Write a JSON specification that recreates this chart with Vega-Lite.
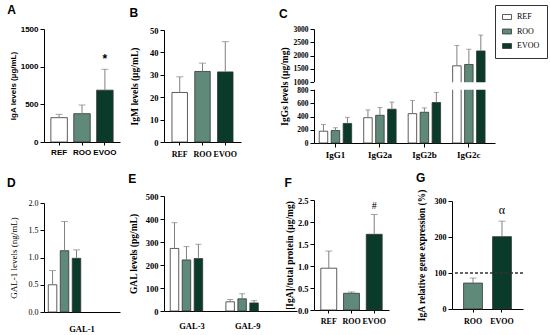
{
"$schema":"https://vega.github.io/schema/vega-lite/v6.json",
"padding":{"left":7,"top":4,"right":0,"bottom":0},
"config":{
 "view":{"stroke":null},
 "axis":{"domainColor":"#000","tickColor":"#000","labelColor":"#000","titleColor":"#000","grid":false,"labelFont":"Liberation Serif","titleFont":"Liberation Serif","labelFontWeight":"bold","titleFontWeight":"bold","labelFontSize":8.5,"titleFontSize":9.5,"tickSize":4,"labelPadding":2,"labelOverlap":false,"domainWidth":1,"tickWidth":1},
 "axisX":{"labelAngle":0,"tickSize":3},
 "title":{"font":"Liberation Sans","fontSize":12,"fontWeight":"bold","anchor":"start","frame":"bounds","color":"#000","offset":4},
 "bar":{"stroke":"#333333","strokeWidth":0.8},
 "tick":{"color":"#808080","thickness":1},
 "rule":{"color":"#808080","strokeWidth":1},
 "text":{"color":"#000"}
},
"datasets":{
 "a":[{"g":"REF","v":323,"hi":367},{"g":"ROO","v":376,"hi":491},{"g":"EVOO","v":688,"hi":965,"note":"*"}],
 "b":[{"g":"REF","v":22.1,"hi":29.1},{"g":"ROO","v":31.5,"hi":35.2},{"g":"EVOO","v":31.3,"hi":44.8}],
 "c":[
  {"grp":"IgG1","g":"REF","v":178,"hi":280},{"grp":"IgG1","g":"ROO","v":188,"hi":230},{"grp":"IgG1","g":"EVOO","v":295,"hi":387},
  {"grp":"IgG2a","g":"REF","v":382,"hi":500},{"grp":"IgG2a","g":"ROO","v":418,"hi":535},{"grp":"IgG2a","g":"EVOO","v":510,"hi":617},
  {"grp":"IgG2b","g":"REF","v":443,"hi":642},{"grp":"IgG2b","g":"ROO","v":464,"hi":530},{"grp":"IgG2b","g":"EVOO","v":611,"hi":764},
  {"grp":"IgG2c","g":"REF","v":1611,"hi":2376},{"grp":"IgG2c","g":"ROO","v":1662,"hi":2236},{"grp":"IgG2c","g":"EVOO","v":2172,"hi":2770}],
 "cgap":[{"lo":808,"hi":992,"x0":0,"x1":1}],
 "d":[{"cat":"GAL-1","g":"REF","v":0.5,"hi":0.76},{"cat":"GAL-1","g":"ROO","v":1.125,"hi":1.66},{"cat":"GAL-1","g":"EVOO","v":0.985,"hi":1.14}],
 "e":[
  {"grp":"GAL-3","g":"REF","v":272,"hi":384},{"grp":"GAL-3","g":"ROO","v":222,"hi":280},{"grp":"GAL-3","g":"EVOO","v":228,"hi":290},
  {"grp":"GAL-9","g":"REF","v":40,"hi":50},{"grp":"GAL-9","g":"ROO","v":53,"hi":75},{"grp":"GAL-9","g":"EVOO","v":35,"hi":45}],
 "f":[{"g":"REF","v":0.95,"hi":1.34},{"g":"ROO","v":0.38,"hi":0.41},{"g":"EVOO","v":1.72,"hi":2.17,"note":"#"}],
 "g":[{"g":"ROO","v":72,"hi":86},{"g":"EVOO","v":201,"hi":244,"note":"α"}],
 "blank":[]
},
"columns":4,
"align":"each",
"bounds":"flush",
"spacing":{"row":53,"column":17},
"resolve":{"scale":{"fill":"independent"},"legend":{"fill":"independent"}},
"concat":[
 {
  "title":{"text":"A","offset":8,"dx":-2},
  "width":103,"height":113,
  "data":{"name":"a"},
  "encoding":{"x":{"field":"g","type":"nominal","sort":["REF","ROO","EVOO"],"scale":{"range":[0,76],"paddingInner":0.28,"paddingOuter":0.3},"axis":{"title":null,"labelFont":"Liberation Sans","labelFontSize":8,"labelPadding":3}}},
  "layer":[
   {"mark":"bar","encoding":{"y":{"field":"v","type":"quantitative","scale":{"domain":[0,1500],"nice":false},"axis":{"title":"IgA levels (µg/mL)","values":[0,500,1000,1500],"format":"d","labelOverlap":false,"labelFont":"Liberation Sans","titleFont":"Liberation Sans","labelFontSize":8,"titleFontSize":8,"titlePadding":3}},"fill":{"field":"g","type":"nominal","scale":{"domain":["REF","ROO","EVOO"],"range":["#ffffff","#5f8a79","#0a3a29"]},"legend":null}}},
   {"mark":"rule","encoding":{"y":{"field":"v","type":"quantitative","scale":{"domain":[0,1500],"nice":false},"axis":{"title":"IgA levels (µg/mL)","values":[0,500,1000,1500],"format":"d","labelOverlap":false,"labelFont":"Liberation Sans","titleFont":"Liberation Sans","labelFontSize":8,"titleFontSize":8,"titlePadding":3}},"y2":{"field":"hi"}}},
   {"mark":{"type":"tick","size":7},"encoding":{"y":{"field":"hi","type":"quantitative","scale":{"domain":[0,1500],"nice":false},"axis":{"title":"IgA levels (µg/mL)","values":[0,500,1000,1500],"format":"d","labelOverlap":false,"labelFont":"Liberation Sans","titleFont":"Liberation Sans","labelFontSize":8,"titleFontSize":8,"titlePadding":3}}}},
   {"transform":[{"filter":"datum.note"}],"mark":{"type":"text","font":"Liberation Sans","fontSize":12,"fontWeight":"bold","baseline":"alphabetic","dy":-6},"encoding":{"y":{"field":"hi","type":"quantitative","scale":{"domain":[0,1500],"nice":false},"axis":{"title":"IgA levels (µg/mL)","values":[0,500,1000,1500],"format":"d","labelOverlap":false,"labelFont":"Liberation Sans","titleFont":"Liberation Sans","labelFontSize":8,"titleFontSize":8,"titlePadding":3}},"text":{"field":"note"}}}
  ]
 },
 {
  "title":{"text":"B","offset":6},
  "width":133,"height":113,
  "data":{"name":"b"},
  "encoding":{"x":{"field":"g","type":"nominal","sort":["REF","ROO","EVOO"],"scale":{"range":[0,77],"paddingInner":0.32,"paddingOuter":0.35},"axis":{"title":null,"labelFontSize":8,"labelPadding":5}}},
  "layer":[
   {"mark":"bar","encoding":{"y":{"field":"v","type":"quantitative","scale":{"domain":[0,50],"nice":false,"range":[113,1]},"axis":{"title":"IgM levels (µg/mL)","values":[0,10,20,30,40,50],"labelOverlap":false,"titlePadding":10}},"fill":{"field":"g","type":"nominal","scale":{"domain":["REF","ROO","EVOO"],"range":["#ffffff","#5f8a79","#0a3a29"]},"legend":null}}},
   {"mark":"rule","encoding":{"y":{"field":"v","type":"quantitative","scale":{"domain":[0,50],"nice":false,"range":[113,1]},"axis":{"title":"IgM levels (µg/mL)","values":[0,10,20,30,40,50],"labelOverlap":false,"titlePadding":10}},"y2":{"field":"hi"}}},
   {"mark":{"type":"tick","size":7},"encoding":{"y":{"field":"hi","type":"quantitative","scale":{"domain":[0,50],"nice":false,"range":[113,1]},"axis":{"title":"IgM levels (µg/mL)","values":[0,10,20,30,40,50],"labelOverlap":false,"titlePadding":10}}}}
  ]
 },
 {
  "title":{"text":"C","offset":4},
  "width":121,"height":114,
  "resolve":{"scale":{"x":"independent"},"axis":{"x":"independent"}},
  "layer":[
   {"data":{"name":"c"},
    "encoding":{
     "x":{"field":"grp","type":"nominal","sort":["IgG1","IgG2a","IgG2b","IgG2c"],"scale":{"range":[0,181],"paddingInner":0.26,"paddingOuter":0.165,"align":0.34},"axis":{"title":null,"labelFontSize":9,"labelPadding":3,"tickSize":4}},
     "xOffset":{"field":"g","type":"nominal","sort":["REF","ROO","EVOO"],"scale":{"paddingInner":0.29,"paddingOuter":0.02}}},
    "layer":[
     {"mark":"bar","encoding":{
       "y":{"field":"v","type":"quantitative","scale":{"domain":[0,800,1000,3000],"range":[114,61,53,0],"nice":false,"zero":false},"axis":{"title":"IgGs levels (µg/mg)","values":[0,200,400,600,800,1000,1500,2000,2500,3000],"format":"d","labelOverlap":false,"labelFontSize":7.5,"titlePadding":4,"zindex":0}},
       "fill":{"field":"g","type":"nominal","scale":{"domain":["REF","ROO","EVOO"],"range":["#ffffff","#5f8a79","#0a3a29"]},"legend":null}}},
     {"mark":"rule","encoding":{
       "y":{"field":"v","type":"quantitative","scale":{"domain":[0,800,1000,3000],"range":[114,61,53,0],"nice":false,"zero":false},"axis":{"title":"IgGs levels (µg/mg)","values":[0,200,400,600,800,1000,1500,2000,2500,3000],"format":"d","labelOverlap":false,"labelFontSize":7.5,"titlePadding":4,"zindex":0}},"y2":{"field":"hi"}}},
     {"mark":{"type":"tick","size":5},"encoding":{
       "y":{"field":"hi","type":"quantitative","scale":{"domain":[0,800,1000,3000],"range":[114,61,53,0],"nice":false,"zero":false},"axis":{"title":"IgGs levels (µg/mg)","values":[0,200,400,600,800,1000,1500,2000,2500,3000],"format":"d","labelOverlap":false,"labelFontSize":7.5,"titlePadding":4,"zindex":0}}}}
    ]},
   {"data":{"name":"cgap"},"mark":{"type":"rect","color":"#ffffff","opacity":1},"encoding":{
     "x":{"field":"x0","type":"quantitative","scale":{"domain":[0,1],"range":[0,181]},"axis":null},
     "x2":{"field":"x1"},
     "y":{"field":"lo","type":"quantitative","scale":{"domain":[0,800,1000,3000],"range":[114,61,53,0],"nice":false,"zero":false},"axis":{"title":"IgGs levels (µg/mg)","values":[0,200,400,600,800,1000,1500,2000,2500,3000],"format":"d","labelOverlap":false,"labelFontSize":7.5,"titlePadding":4,"zindex":0}},"y2":{"field":"hi"}}}
  ]
 },
 {"width":1,"height":1,"data":{"name":"blank"},"mark":{"type":"square"},
  "encoding":{"fill":{"field":"g","type":"nominal","scale":{"domain":["REF","ROO","EVOO"],"range":["#ffffff","#5f8a79","#0a3a29"]},"legend":{"title":null,"orient":"none","legendX":43,"legendY":-24,"strokeColor":"#333333","fillColor":"#ffffff","padding":7,"labelFont":"Liberation Serif","labelFontSize":8,"labelColor":"#000","symbolType":"M-1,-0.55H1V0.55H-1Z","symbolSize":81,"symbolStrokeColor":"#333333","symbolStrokeWidth":0.8,"symbolOpacity":1,"rowPadding":4.5,"labelOffset":5}}}},
 {
  "title":{"text":"D","offset":6,"dx":-2},
  "width":103,"height":116,
  "data":{"name":"d"},
  "encoding":{
   "x":{"field":"cat","type":"nominal","scale":{"range":[0,76],"paddingInner":0,"paddingOuter":0.06},"axis":{"title":null,"ticks":false,"labelPadding":12,"labelFontSize":8.5}},
   "xOffset":{"field":"g","type":"nominal","sort":["REF","ROO","EVOO"],"scale":{"paddingInner":0.25,"paddingOuter":0.125}}},
  "layer":[
   {"mark":"bar","encoding":{"y":{"field":"v","type":"quantitative","scale":{"domain":[0,2],"nice":false,"range":[116,7]},"axis":{"title":"GAL-1 levels (ng/mL)","values":[0,0.5,1,1.5,2],"format":".1f","labelOverlap":false,"labelFontWeight":"normal","titleFontWeight":"normal","titleFontSize":9,"labelFontSize":8,"titlePadding":10}},"fill":{"field":"g","type":"nominal","scale":{"domain":["REF","ROO","EVOO"],"range":["#ffffff","#5f8a79","#0a3a29"]},"legend":null}}},
   {"mark":"rule","encoding":{"y":{"field":"v","type":"quantitative","scale":{"domain":[0,2],"nice":false,"range":[116,7]},"axis":{"title":"GAL-1 levels (ng/mL)","values":[0,0.5,1,1.5,2],"format":".1f","labelOverlap":false,"labelFontWeight":"normal","titleFontWeight":"normal","titleFontSize":9,"labelFontSize":8,"titlePadding":10}},"y2":{"field":"hi"}}},
   {"mark":{"type":"tick","size":7},"encoding":{"y":{"field":"hi","type":"quantitative","scale":{"domain":[0,2],"nice":false,"range":[116,7]},"axis":{"title":"GAL-1 levels (ng/mL)","values":[0,0.5,1,1.5,2],"format":".1f","labelOverlap":false,"labelFontWeight":"normal","titleFontWeight":"normal","titleFontSize":9,"labelFontSize":8,"titlePadding":10}}}}
  ]
 },
 {
  "title":{"text":"E","offset":6},
  "width":133,"height":115,
  "data":{"name":"e"},
  "encoding":{
   "x":{"field":"grp","type":"nominal","sort":["GAL-3","GAL-9"],"scale":{"paddingInner":0.21,"paddingOuter":0.3,"align":0.18},"axis":{"title":null,"ticks":false,"labelPadding":10,"labelFontSize":8.5}},
   "xOffset":{"field":"g","type":"nominal","sort":["REF","ROO","EVOO"],"scale":{"paddingInner":0.27,"paddingOuter":0.01}}},
  "layer":[
   {"mark":"bar","encoding":{"y":{"field":"v","type":"quantitative","scale":{"domain":[0,500],"nice":false},"axis":{"title":"GAL levels (pg/mL)","values":[0,100,200,300,400,500],"labelOverlap":false,"titlePadding":7}},"fill":{"field":"g","type":"nominal","scale":{"domain":["REF","ROO","EVOO"],"range":["#ffffff","#5f8a79","#0a3a29"]},"legend":null}}},
   {"mark":"rule","encoding":{"y":{"field":"v","type":"quantitative","scale":{"domain":[0,500],"nice":false},"axis":{"title":"GAL levels (pg/mL)","values":[0,100,200,300,400,500],"labelOverlap":false,"titlePadding":7}},"y2":{"field":"hi"}}},
   {"mark":{"type":"tick","size":6},"encoding":{"y":{"field":"hi","type":"quantitative","scale":{"domain":[0,500],"nice":false},"axis":{"title":"GAL levels (pg/mL)","values":[0,100,200,300,400,500],"labelOverlap":false,"titlePadding":7}}}}
  ]
 },
 {
  "title":{"text":"F","offset":6},
  "width":121,"height":114,
  "data":{"name":"f"},
  "encoding":{"x":{"field":"g","type":"nominal","sort":["REF","ROO","EVOO"],"scale":{"range":[0,75],"paddingInner":0.3,"paddingOuter":0.3},"axis":{"title":null,"labelFontSize":8,"labelPadding":4}}},
  "layer":[
   {"mark":"bar","encoding":{"y":{"field":"v","type":"quantitative","scale":{"domain":[0,2.5],"nice":false,"range":[114,4]},"axis":{"title":"[IgA]/total protein (µg/mg)","values":[0,0.5,1,1.5,2,2.5],"format":".1f","labelOverlap":false,"titlePadding":3}},"fill":{"field":"g","type":"nominal","scale":{"domain":["REF","ROO","EVOO"],"range":["#ffffff","#5f8a79","#0a3a29"]},"legend":null}}},
   {"mark":"rule","encoding":{"y":{"field":"v","type":"quantitative","scale":{"domain":[0,2.5],"nice":false,"range":[114,4]},"axis":{"title":"[IgA]/total protein (µg/mg)","values":[0,0.5,1,1.5,2,2.5],"format":".1f","labelOverlap":false,"titlePadding":3}},"y2":{"field":"hi"}}},
   {"mark":{"type":"tick","size":7},"encoding":{"y":{"field":"hi","type":"quantitative","scale":{"domain":[0,2.5],"nice":false,"range":[114,4]},"axis":{"title":"[IgA]/total protein (µg/mg)","values":[0,0.5,1,1.5,2,2.5],"format":".1f","labelOverlap":false,"titlePadding":3}}}},
   {"transform":[{"filter":"datum.note"}],"mark":{"type":"text","font":"Liberation Serif","fontSize":10,"baseline":"alphabetic","dy":-6},"encoding":{"y":{"field":"hi","type":"quantitative","scale":{"domain":[0,2.5],"nice":false,"range":[114,4]},"axis":{"title":"[IgA]/total protein (µg/mg)","values":[0,0.5,1,1.5,2,2.5],"format":".1f","labelOverlap":false,"titlePadding":3}},"text":{"field":"note"}}}
  ]
 },
 {
  "title":{"text":"G","offset":4},
  "width":71,"height":113,
  "layer":[
   {"data":{"name":"g"},"mark":"bar","encoding":{
     "x":{"field":"g","type":"nominal","sort":["ROO","EVOO"],"scale":{"paddingInner":0.35,"paddingOuter":0.4},"axis":{"title":null,"labelFontSize":8,"labelPadding":5}},
     "y":{"field":"v","type":"quantitative","scale":{"domain":[0,300],"nice":false,"range":[113,5]},"axis":{"title":"IgA relative gene expression (%)","values":[0,100,200,300],"labelOverlap":false,"titlePadding":8,"titleFontSize":9.5,"labelFontSize":8}},
     "fill":{"field":"g","type":"nominal","scale":{"domain":["REF","ROO","EVOO"],"range":["#ffffff","#5f8a79","#0a3a29"]},"legend":null}}},
   {"data":{"name":"g"},"mark":"rule","encoding":{"x":{"field":"g","type":"nominal","sort":["ROO","EVOO"]},"y":{"field":"v","type":"quantitative","scale":{"domain":[0,300],"nice":false,"range":[113,5]},"axis":{"title":"IgA relative gene expression (%)","values":[0,100,200,300],"labelOverlap":false,"titlePadding":8,"titleFontSize":9.5,"labelFontSize":8}},"y2":{"field":"hi"}}},
   {"data":{"name":"g"},"mark":{"type":"tick","size":7},"encoding":{"x":{"field":"g","type":"nominal","sort":["ROO","EVOO"]},"y":{"field":"hi","type":"quantitative","scale":{"domain":[0,300],"nice":false,"range":[113,5]},"axis":{"title":"IgA relative gene expression (%)","values":[0,100,200,300],"labelOverlap":false,"titlePadding":8,"titleFontSize":9.5,"labelFontSize":8}}}},
   {"data":{"name":"g"},"transform":[{"filter":"datum.note"}],"mark":{"type":"text","font":"Liberation Serif","fontSize":12,"baseline":"alphabetic","dy":-7},"encoding":{"x":{"field":"g","type":"nominal","sort":["ROO","EVOO"]},"y":{"field":"hi","type":"quantitative","scale":{"domain":[0,300],"nice":false,"range":[113,5]},"axis":{"title":"IgA relative gene expression (%)","values":[0,100,200,300],"labelOverlap":false,"titlePadding":8,"titleFontSize":9.5,"labelFontSize":8}},"text":{"field":"note"}}},
   {"data":{"name":"g"},"mark":{"type":"rule","color":"#333333","strokeDash":[3,2]},"encoding":{"y":{"datum":100,"type":"quantitative","scale":{"domain":[0,300],"nice":false,"range":[113,5]},"axis":{"title":"IgA relative gene expression (%)","values":[0,100,200,300],"labelOverlap":false,"titlePadding":8,"titleFontSize":9.5,"labelFontSize":8}}}}
  ]
 }
]
}
